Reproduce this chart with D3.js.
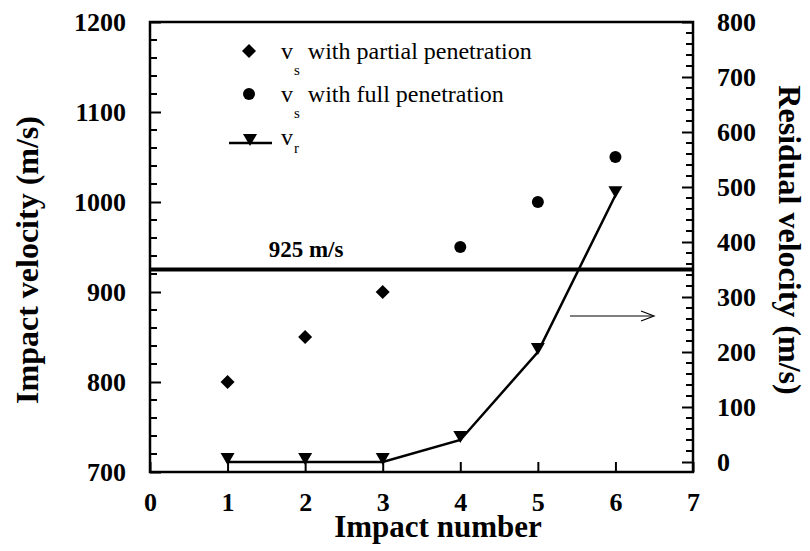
<!DOCTYPE html>
<html>
<head>
<script src="https://d3js.org/d3.v7.min.js"></script>
</head>
<body style="margin:0">
<script>
    // DATA
    var partialImpacts = [1, 2, 3];
    var partialVs = [800, 850, 900];
    var fullImpacts = [4, 5, 6];
    var fullVs = [950, 1000, 1050];
    var residualImpacts = [1, 2, 3, 4, 5, 6];
    var residualVr = [0, 0, 0, 40, 200, 485];
    var thresholdV = 925;
    var xTicks = [0, 1, 2, 3, 4, 5, 6, 7];
    var leftTicks = [700, 800, 900, 1000, 1100, 1200];
    var rightTicks = [0, 100, 200, 300, 400, 500, 600, 700, 800];

    // SETUP
    var width = 810, height = 551;
    var plot = { left: 150, right: 693, top: 22, bottom: 472 };
    var FONT = "'Liberation Serif'";

    var svg = d3.select('body').append('svg')
        .attr('width', width)
        .attr('height', height)
        .attr('font-family', 'Liberation Serif');

    var x = d3.scaleLinear().domain([0, 7]).range([plot.left, plot.right]);
    var yLeft = d3.scaleLinear().domain([700, 1200]).range([plot.bottom, plot.top]);
    var yRight = d3.scaleLinear().domain([0, 800]).range([462, plot.top]);

    // helper for all texts
    function label(sel, size, bold) {
        return sel.style('font-family', FONT)
            .style('font-size', size + 'px')
            .style('font-weight', bold ? 'bold' : 'normal')
            .attr('fill', '#000');
    }

    // minor ticks (inside)
    var leftMinor = d3.range(700, 1201, 20).filter(function (d) { return d % 100 != 0; });
    var rightMinor = d3.range(0, 801, 20).filter(function (d) { return d % 100 != 0; });

    var leftAxis = svg.append('g').attr('transform', 'translate(' + plot.left + ',0)');
    leftAxis.selectAll('line.minor').data(leftMinor).enter().append('line')
        .attr('x1', 0).attr('x2', 7)
        .attr('y1', d => yLeft(d)).attr('y2', d => yLeft(d))
        .attr('stroke', '#000').attr('stroke-width', 2);
    leftAxis.call(d3.axisLeft(yLeft).tickValues(leftTicks).tickFormat(d3.format('d'))
        .tickSizeInner(-11).tickSizeOuter(0).tickPadding(24));

    var rightAxis = svg.append('g').attr('transform', 'translate(' + plot.right + ',0)');
    rightAxis.selectAll('line.minor').data(rightMinor).enter().append('line')
        .attr('x1', 0).attr('x2', -7)
        .attr('y1', d => yRight(d)).attr('y2', d => yRight(d))
        .attr('stroke', '#000').attr('stroke-width', 2);
    rightAxis.call(d3.axisRight(yRight).tickValues(rightTicks).tickFormat(d3.format('d'))
        .tickSizeInner(-11).tickSizeOuter(0).tickPadding(24));

    var bottomAxis = svg.append('g').attr('transform', 'translate(0,' + plot.bottom + ')');
    bottomAxis.call(d3.axisBottom(x).tickValues(xTicks).tickFormat(d3.format('d'))
        .tickSizeInner(-10).tickSizeOuter(0).tickPadding(21));

    svg.selectAll('g').attr('font-family', 'Liberation Serif').attr('font-size', null);
    svg.selectAll('.domain').remove();
    svg.selectAll('.tick line').attr('stroke', '#000').attr('stroke-width', 2);
    label(svg.selectAll('.tick text'), 26, true);

    // frame
    svg.append('rect')
        .attr('x', plot.left).attr('y', plot.top)
        .attr('width', plot.right - plot.left).attr('height', plot.bottom - plot.top)
        .attr('fill', 'none').attr('stroke', '#000').attr('stroke-width', 2.5);

    // 925 m/s threshold
    svg.append('line')
        .attr('x1', plot.left).attr('x2', plot.right)
        .attr('y1', yLeft(thresholdV)).attr('y2', yLeft(thresholdV))
        .attr('stroke', '#000').attr('stroke-width', 4);
    label(svg.append('text'), 23, true)
        .attr('x', 306).attr('y', yLeft(thresholdV) - 13)
        .attr('text-anchor', 'middle')
        .text(thresholdV + ' m/s');

    // residual velocity line
    var residual = residualImpacts.map(function (d, i) { return [d, residualVr[i]]; });
    svg.append('path')
        .datum(residual)
        .attr('fill', 'none').attr('stroke', '#000').attr('stroke-width', 2.5)
        .attr('d', d3.line().x(d => x(d[0])).y(d => yRight(d[1])));

    var triangle = 'M-7,-6 L7,-6 L0,6 Z';
    svg.selectAll('path.tri').data(residual).enter().append('path')
        .attr('class', 'tri')
        .attr('transform', d => 'translate(' + x(d[0]) + ',' + (yRight(d[1]) - 3) + ')')
        .attr('d', triangle).attr('fill', '#000');

    // partial penetration diamonds
    svg.selectAll('path.diamond').data(partialImpacts).enter().append('path')
        .attr('class', 'diamond')
        .attr('transform', (d, i) => 'translate(' + x(d) + ',' + yLeft(partialVs[i]) + ')')
        .attr('d', 'M0,-7 L7,0 L0,7 L-7,0 Z').attr('fill', '#000');

    // full penetration circles
    svg.selectAll('circle.full').data(fullImpacts).enter().append('circle')
        .attr('class', 'full')
        .attr('cx', d => x(d)).attr('cy', (d, i) => yLeft(fullVs[i]))
        .attr('r', 6).attr('fill', '#000');

    // arrow pointing to right axis
    svg.append('line')
        .attr('x1', 570).attr('x2', 653).attr('y1', 316).attr('y2', 316)
        .attr('stroke', '#000').attr('stroke-width', 1.2);
    svg.append('path')
        .attr('d', 'M641,311 L654,316 L641,321')
        .attr('fill', 'none').attr('stroke', '#000').attr('stroke-width', 1.2);

    // legend
    var legend = svg.append('g');
    legend.append('path').attr('transform', 'translate(249,51)')
        .attr('d', 'M0,-7 L7,0 L0,7 L-7,0 Z').attr('fill', '#000');
    legend.append('circle').attr('cx', 249).attr('cy', 94).attr('r', 6).attr('fill', '#000');
    legend.append('line').attr('x1', 229).attr('x2', 272).attr('y1', 143).attr('y2', 143)
        .attr('stroke', '#000').attr('stroke-width', 2.5);
    legend.append('path').attr('transform', 'translate(250,140)').attr('d', triangle).attr('fill', '#000');

    var legendRows = [
        { y: 59, sub: 's', drop: 16, rest: 'with partial penetration' },
        { y: 102, sub: 's', drop: 16, rest: 'with full penetration' },
        { y: 145, sub: 'r', drop: 8, rest: '' }
    ];
    legendRows.forEach(function (row) {
        var t = label(legend.append('text'), 24, false).attr('x', 281).attr('y', row.y);
        t.append('tspan').text('v');
        t.append('tspan').attr('dy', row.drop).attr('dx', 1).style('font-size', '15px').text(row.sub);
        if (row.rest) {
            t.append('tspan').attr('dy', -row.drop).attr('dx', 8).text(row.rest);
        }
    });

    // axis titles
    label(svg.append('text'), 31, true)
        .attr('x', 438).attr('y', 537)
        .attr('text-anchor', 'middle')
        .text('Impact number');
    label(svg.append('text'), 32, true)
        .attr('transform', 'translate(38,260) rotate(-90)')
        .attr('text-anchor', 'middle')
        .text('Impact velocity (m/s)');
    label(svg.append('text'), 32, true)
        .attr('transform', 'translate(779,240) rotate(90)')
        .attr('text-anchor', 'middle')
        .text('Residual velocity (m/s)');
</script>
</body>
</html>
